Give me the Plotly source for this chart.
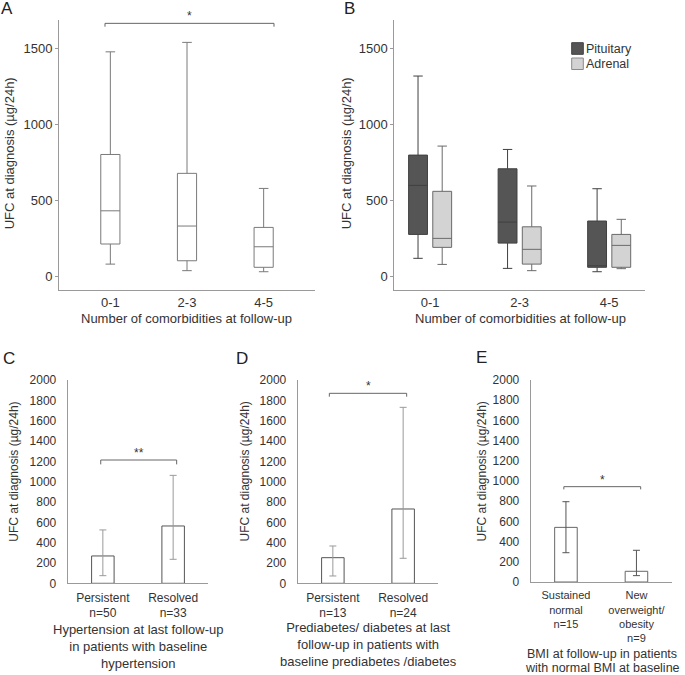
import plotly.graph_objects as go

W, H = 685, 675

# ---------------- data ----------------
# Panel A: UFC by number of comorbidities (box stats)
a_cats = ["0-1", "2-3", "4-5"]
a_low = [83, 40, 33]
a_q1 = [215, 105, 62]
a_med = [433, 333, 197]
a_q3 = [803, 679, 324]
a_high = [1477, 1539, 580]

# Panel B: by aetiology
b_cats = ["0-1", "2-3", "4-5"]
pit_low = [121, 55, 33]
pit_q1 = [278, 221, 62]
pit_med = [600, 359, 72]
pit_q3 = [799, 709, 366]
pit_high = [1318, 836, 578]
adr_low = [81, 40, 53]
adr_q1 = [193, 83, 62]
adr_med = [252, 180, 206]
adr_q3 = [561, 328, 278]
adr_high = [858, 596, 377]
b_series = ["Pituitary", "Adrenal"]

# Panel C: hypertension
c_cats = ["Persistent<br>n=50", "Resolved<br>n=33"]
c_vals = [269, 564]
c_hi = [525, 1062]
c_lo = [75, 236]

# Panel D: prediabetes/diabetes
d_cats = ["Persistent<br>n=13", "Resolved<br>n=24"]
d_vals = [252, 731]
d_hi = [367, 1731]
d_lo = [72, 246]

# Panel E: BMI
e_cats = ["Sustained<br>normal<br>n=15", "New<br>overweight/<br>obesity<br>n=9"]
e_vals = [541, 106]
e_hi = [795, 314]
e_lo = [290, 63]

y_ab_ticks = [0, 500, 1000, 1500]
y_cde_ticks = list(range(0, 2001, 200))

TXT = "#333333"
FONT = "Arial, Liberation Sans, sans-serif"


def px(x):
    return x / W


def py(y):
    return 1 - y / H


fig = go.Figure()

# Panel A
fig.add_trace(go.Box(
    x=a_cats, q1=a_q1, median=a_med, q3=a_q3, lowerfence=a_low, upperfence=a_high,
    width=0.25, whiskerwidth=0.5, fillcolor="white", boxpoints=False,
    line=dict(color="#7a7a7a", width=1), xaxis="x", yaxis="y", showlegend=False,
    hoverinfo="skip"))

# Panel B
fig.add_trace(go.Box(
    x=b_cats, q1=pit_q1, median=pit_med, q3=pit_q3, lowerfence=pit_low, upperfence=pit_high,
    name=b_series[0], whiskerwidth=0.5, fillcolor="#555555", boxpoints=False,
    line=dict(color="#404040", width=1), xaxis="x2", yaxis="y2", showlegend=False,
    offsetgroup="pit", alignmentgroup="b", hoverinfo="skip"))
fig.add_trace(go.Box(
    x=b_cats, q1=adr_q1, median=adr_med, q3=adr_q3, lowerfence=adr_low, upperfence=adr_high,
    name=b_series[1], whiskerwidth=0.5, fillcolor="#d3d3d3", boxpoints=False,
    line=dict(color="#6a6a6a", width=1), xaxis="x2", yaxis="y2", showlegend=False,
    offsetgroup="adr", alignmentgroup="b", hoverinfo="skip"))


def bar(cats, vals, hi, lo, xa, ya, ecol, lcol):
    return go.Bar(
        x=cats, y=vals, width=0.32, xaxis=xa, yaxis=ya, showlegend=False,
        marker=dict(color="white", line=dict(color=lcol, width=1)),
        error_y=dict(type="data", symmetric=False,
                     array=[h - v for h, v in zip(hi, vals)],
                     arrayminus=[v - l for v, l in zip(vals, lo)],
                     color=ecol, thickness=1, width=3.5),
        hoverinfo="skip")


fig.add_trace(bar(c_cats, c_vals, c_hi, c_lo, "x3", "y3", "#9a9a9a", "#555555"))
fig.add_trace(bar(d_cats, d_vals, d_hi, d_lo, "x4", "y4", "#9a9a9a", "#555555"))
fig.add_trace(bar(e_cats, e_vals, e_hi, e_lo, "x5", "y5", "#555555", "#666666"))

axline = dict(showline=True, linecolor="#9a9a9a", linewidth=1, showgrid=False,
              zeroline=False, automargin=False, tickfont=dict(size=13, color=TXT))

ab_y = dict(axline, range=[-87, 1686], tickvals=y_ab_ticks, ticks="outside",
            ticklen=3, tickcolor="#9a9a9a", domain=[py(290), py(20)])
ab_x = dict(axline, type="category", ticks="")

cde_y = dict(axline, range=[0, 2000], tickvals=y_cde_ticks, ticks="",
             tickfont=dict(size=12, color=TXT), ticklabelstandoff=8)
cde_x = dict(axline, type="category", ticks="", range=[-0.5, 1.5],
             tickfont=dict(size=12, color=TXT), ticklabelstandoff=3)

fig.update_layout(
    template="none",
    width=W, height=H, autosize=False,
    margin=dict(l=0, r=0, t=0, b=0, pad=0, autoexpand=False),
    paper_bgcolor="white", plot_bgcolor="white",
    font=dict(family=FONT, color=TXT),
    boxmode="group", boxgap=0.46, boxgroupgap=0.22,
    showlegend=False, hovermode=False,
    xaxis=dict(ab_x, domain=[px(59), px(315)], range=[-0.67, 2.67], anchor="y"),
    yaxis=dict(ab_y, anchor="x"),
    xaxis2=dict(ab_x, domain=[px(394.3), px(645)], range=[-0.4, 2.4], anchor="y2"),
    yaxis2=dict(ab_y, anchor="x2"),
    xaxis3=dict(cde_x, domain=[px(67.7), px(208.3)], anchor="y3"),
    yaxis3=dict(cde_y, domain=[py(583.3), py(380)], anchor="x3"),
    xaxis4=dict(cde_x, domain=[px(297.7), px(438.3)], anchor="y4"),
    yaxis4=dict(cde_y, domain=[py(583.3), py(380)], anchor="x4"),
    xaxis5=dict(cde_x, domain=[px(530.7), px(671.7)], anchor="y5",
                tickfont=dict(size=11, color=TXT)),
    yaxis5=dict(cde_y, domain=[py(582), py(380)], anchor="x5"),
)

# significance brackets: (xref, yref, x0, x1, level, drop, label)
brackets = [
    ("x", "y", -0.07, 2.135, 1664, 22, "*"),
    ("x3", "y3", -0.03, 1.05, 1213, 43, "**"),
    ("x4", "y4", -0.05, 1.05, 1869, 33, "*"),
    ("x5", "y5", -0.03, 1.06, 944, 27, "*"),
]
for xr, yr, x0, x1, lvl, drop, lab in brackets:
    fig.add_shape(type="path", xref=xr, yref=yr,
                  path=f"M {x0} {lvl - drop} L {x0} {lvl} L {x1} {lvl} L {x1} {lvl - drop}",
                  line=dict(color="#666666", width=1))
    fig.add_annotation(xref=xr, yref=yr, x=(x0 + x1) / 2, y=lvl, text=lab,
                       showarrow=False, yanchor="bottom", yshift=-2,
                       font=dict(size=12, color=TXT))

# legend for panel B (manual)
leg = [(b_series[0], "#555555", "#404040", 42.7, 54.3, 49),
       (b_series[1], "#d3d3d3", "#8a8a8a", 58, 69.5, 63.5)]
for name, fc, lc, y0, y1, yc in leg:
    fig.add_shape(type="rect", xref="paper", yref="paper",
                  x0=px(571.7), x1=px(583.3), y0=py(y1), y1=py(y0),
                  fillcolor=fc, line=dict(color=lc, width=1))
    fig.add_annotation(xref="paper", yref="paper", x=px(584), y=py(yc), text=name,
                       showarrow=False, xanchor="left", yanchor="middle",
                       font=dict(size=12.5, color=TXT))

# panel letters
for lab, x, y in [("A", 7, 8), ("B", 349, 8), ("C", 9, 358), ("D", 241.7, 358), ("E", 481.7, 357)]:
    fig.add_annotation(xref="paper", yref="paper", x=px(x), y=py(y), text=lab,
                       showarrow=False, xanchor="center", yanchor="middle",
                       font=dict(size=17, color="#222222"))

# y-axis titles
ytitle = "UFC at diagnosis (µg/24h)"
for x, y, s in [(9, 153.3, 13), (346, 153.3, 13), (14, 471.7, 12), (244, 471.5, 12), (481, 471.5, 12)]:
    fig.add_annotation(xref="paper", yref="paper", x=px(x), y=py(y), text=ytitle,
                       textangle=-90, showarrow=False, xanchor="center", yanchor="middle",
                       font=dict(size=s, color=TXT))

# x-axis titles: (text, x, y, size)
xtitles = [
    ("Number of comorbidities at follow-up", 187, 318.5, 13),
    ("Number of comorbidities at follow-up", 520, 318.5, 13),
    ("Hypertension at last follow-up<br>in patients with baseline<br>hypertension", 138, 646.5, 13),
    ("Prediabetes/ diabetes at last<br>follow-up in patients with<br>baseline prediabetes /diabetes", 368, 644.8, 13),
    ("BMI at follow-up in patients", 602, 653.8, 12.5),
    ("with normal BMI at baseline", 602, 667.8, 12.5),
]
for t, x, y, s in xtitles:
    fig.add_annotation(xref="paper", yref="paper", x=px(x), y=py(y), text=t,
                       showarrow=False, xanchor="center", yanchor="middle",
                       font=dict(size=s, color=TXT))

fig.write_html(
    "out.html",
    config={"displayModeBar": False},
    post_script="document.body.style.margin='0';document.body.style.overflow='hidden';",
)
